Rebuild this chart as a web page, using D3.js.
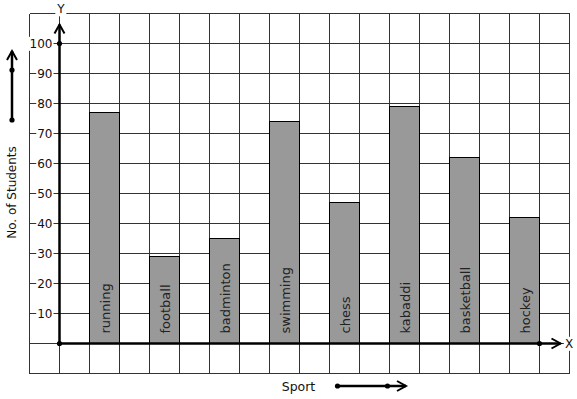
<!DOCTYPE html>
<meta charset="utf-8">
<title>No. of Students by Sport</title>
<style>
    body {
        margin: 0;
        background: #fff;
        font-family: "DejaVu Sans", sans-serif;
    }
    .grid line {
        stroke: #333;
        stroke-width: 1;
        shape-rendering: crispEdges;
    }
    .bar {
        fill: #999;
        stroke: #000;
        stroke-width: 1;
        shape-rendering: crispEdges;
    }
    .axis-line {
        stroke: #000;
        stroke-width: 2.5;
        fill: none;
    }
</style>

<body>
    <div id="chart"></div>

    <script src="https://cdn.jsdelivr.net/npm/d3@7"></script>
    <script>
        // data
        var sports = ["running", "football", "badminton", "swimming", "chess", "kabaddi", "basketball", "hockey"];
        var students = [77, 29, 35, 74, 47, 79, 62, 42];
        var yTicks = [10, 20, 30, 40, 50, 60, 70, 80, 90, 100];

        var width = 577,
            height = 399;

        var svg = d3.select("#chart")
            .append("svg")
            .attr("width", width)
            .attr("height", height);

        // scales
        var x = d3.scaleBand()
            .domain(sports)
            .range([59.5, 569.5])
            .paddingInner(0.5)
            .paddingOuter(0.5);

        var y = d3.scaleLinear()
            .domain([0, 100])
            .range([343.5, 43.5]);

        var cell = y(0) - y(10);   // one grid square
        var x0 = x.range()[0];

        // grid squares
        var grid = svg.append("g").attr("class", "grid");
        var cols = d3.range(-1, 18);
        grid.selectAll(".v")
            .data(cols)
            .enter().append("line")
            .attr("x1", function(d) { return x0 + d * cell; })
            .attr("x2", function(d) { return x0 + d * cell; })
            .attr("y1", y(110))
            .attr("y2", y(-10));
        var rows = d3.range(-10, 111, 10);
        grid.selectAll(".h")
            .data(rows)
            .enter().append("line")
            .attr("y1", function(d) { return y(d); })
            .attr("y2", function(d) { return y(d); })
            .attr("x1", x0 - cell)
            .attr("x2", x0 + 17 * cell);

        // bars
        svg.selectAll(".bar")
            .data(sports)
            .enter().append("rect")
            .attr("class", "bar")
            .attr("x", function(d) { return x(d); })
            .attr("width", x.bandwidth())
            .attr("y", function(d, i) { return y(students[i]); })
            .attr("height", function(d, i) { return y(0) - y(students[i]); });

        // labels inside bars, reading upwards
        svg.selectAll(".bar-label")
            .data(sports)
            .enter().append("text")
            .attr("class", "bar-label")
            .attr("transform", function(d) {
                return "translate(" + (x(d) + x.bandwidth() / 2 + 5) + "," + (y(0) - 10) + ") rotate(-90)";
            })
            .style("font-size", "13px")
            .style("fill", "#222")
            .text(function(d) { return d; });

        // helper: text with a white box behind it
        function boxedText(g, tx, ty, str, anchor, size) {
            var t = g.append("text")
                .attr("x", tx)
                .attr("y", ty)
                .attr("dy", "0.36em")
                .attr("text-anchor", anchor)
                .style("font-size", size + "px")
                .style("fill", "#111")
                .text(str);
            var b = t.node().getBBox();
            g.insert("rect", function() { return t.node(); })
                .attr("x", b.x - 1)
                .attr("y", b.y)
                .attr("width", b.width + 2)
                .attr("height", b.height)
                .attr("fill", "#fff");
        }

        // y tick labels
        var tickG = svg.append("g");
        yTicks.forEach(function(v) {
            boxedText(tickG, 52.5, y(v), String(v), "end", 12);
        });

        // axes
        var axisY = x0, axisX = y(0);
        var xEnd = x0 + 16.7 * cell;
        svg.append("line").attr("class", "axis-line")
            .attr("x1", axisY).attr("y1", axisX)
            .attr("x2", axisY).attr("y2", y(106.3));
        svg.append("line").attr("class", "axis-line")
            .attr("x1", axisY).attr("y1", axisX)
            .attr("x2", xEnd).attr("y2", axisX);

        function chevron(path) {
            svg.append("path").attr("class", "axis-line")
                .attr("d", path)
                .style("stroke-width", 2);
        }
        var yTip = y(106.3);
        chevron("M" + (axisY - 5) + "," + (yTip + 9) + "L" + axisY + "," + yTip + "L" + (axisY + 5) + "," + (yTip + 9));
        chevron("M" + (xEnd - 9) + "," + (axisX - 5) + "L" + xEnd + "," + axisX + "L" + (xEnd - 9) + "," + (axisX + 5));

        // dots on the axes
        var dots = [[axisY, y(0)], [axisY, y(100)], [x.range()[1] - cell, y(0)]];
        svg.selectAll(".dot")
            .data(dots)
            .enter().append("circle")
            .attr("cx", function(d) { return d[0]; })
            .attr("cy", function(d) { return d[1]; })
            .attr("r", 2.6)
            .attr("fill", "#000");

        // axis letters
        var letters = svg.append("g");
        boxedText(letters, axisY + 1.5, 9, "Y", "middle", 12);
        boxedText(letters, xEnd + 8.5, axisX, "X", "middle", 12);

        // y title and its arrow
        svg.append("text")
            .attr("transform", "translate(16," + 192.5 + ") rotate(-90)")
            .attr("text-anchor", "middle")
            .style("font-size", "12px")
            .style("fill", "#111")
            .text("No. of Students");
        svg.append("line").attr("class", "axis-line")
            .attr("x1", 12).attr("y1", 120).attr("x2", 12).attr("y2", 51);
        chevron("M7,60L12,51L17,60");
        svg.selectAll(".tdot")
            .data([[12, 120], [12, 70], [337.5, 386], [387.5, 386]])
            .enter().append("circle")
            .attr("cx", function(d) { return d[0]; })
            .attr("cy", function(d) { return d[1]; })
            .attr("r", 2.6)
            .attr("fill", "#000");

        // x title and its arrow
        svg.append("text")
            .attr("x", 298.5)
            .attr("y", 391)
            .attr("text-anchor", "middle")
            .style("font-size", "12.5px")
            .style("fill", "#111")
            .text("Sport");
        svg.append("line").attr("class", "axis-line")
            .attr("x1", 337.5).attr("y1", 386).attr("x2", 406).attr("y2", 386);
        chevron("M397,381L406,386L397,391");
    </script>
</body>
